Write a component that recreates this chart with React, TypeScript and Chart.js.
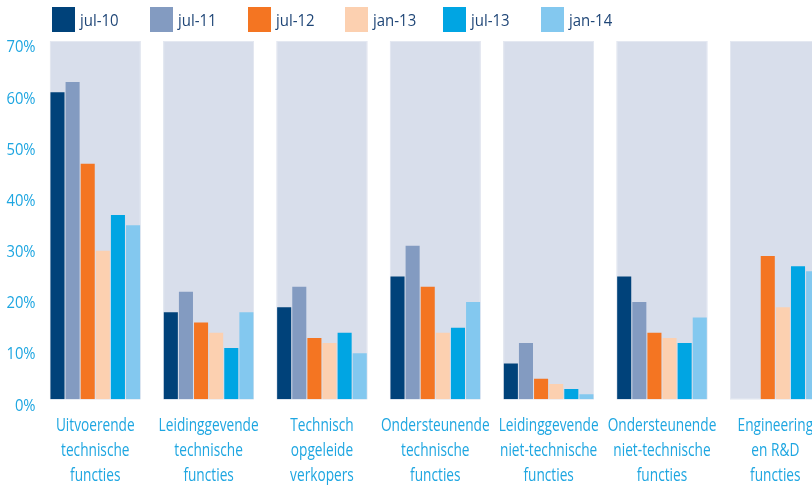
import React, { useEffect, useRef } from 'react';
import { Chart, registerables } from 'chart.js';

Chart.register(...registerables);

const categories: string[][] = [
  ['Uitvoerende', 'technische', 'functies'],
  ['Leidinggevende', 'technische', 'functies'],
  ['Technisch', 'opgeleide', 'verkopers'],
  ['Ondersteunende', 'technische', 'functies'],
  ['Leidinggevende', 'niet-technische', 'functies'],
  ['Ondersteunende', 'niet-technische', 'functies'],
  ['Engineering', 'en R&D', 'functies'],
];
const seriesNames = ['jul-10', 'jul-11', 'jul-12', 'jan-13', 'jul-13', 'jan-14'];
const jul10 = [60, 17, 18, 24, 7, 24, null];
const jul11 = [62, 21, 22, 30, 11, 19, null];
const jul12 = [46, 15, 12, 22, 4, 13, 28];
const jan13 = [29, 13, 11, 13, 3, 12, 18];
const jul13 = [36, 10, 13, 14, 2, 11, 26];
const jan14 = [34, 17, 9, 19, 1, 16, 25];
const yMin = 0;
const yMax = 70;
const yStep = 10;

const seriesValues = [jul10, jul11, jul12, jan13, jul13, jan14];
const colors = ['#00427a', '#839bc1', '#f47522', '#fcd0b0', '#00a5e3', '#83c8ef'];

const FONT = "'Open Sans', 'Noto Sans', sans-serif";
const AXIS_COLOR = '#1ea6e1';
const LEGEND_TEXT = '#1f4677';
const PANEL_COLOR = '#d8deeb';
const PANEL_EDGE = '#e4e8f1';
const CAT_PCT = 0.8;
const X_SQUEEZE = 0.76;
const Y_SQUEEZE = 0.87;

// Background panel behind each category group, sized from the library's scales
const panelPlugin = {
  id: 'panels',
  beforeDatasetsDraw(chart: any) {
    const { ctx, scales } = chart;
    const x = scales.x;
    const y = scales.y;
    const top = y.getPixelForValue(yMax);
    const bottom = y.getPixelForValue(yMin);
    const w = (x.getPixelForValue(1) - x.getPixelForValue(0)) * CAT_PCT;
    ctx.save();
    for (let i = 0; i < categories.length; i++) {
      const cx = x.getPixelForValue(i);
      ctx.fillStyle = PANEL_COLOR;
      ctx.fillRect(cx - w / 2, top, w, bottom - top);
      ctx.strokeStyle = PANEL_EDGE;
      ctx.lineWidth = 1;
      ctx.strokeRect(cx - w / 2 + 0.5, top + 0.5, w - 1, bottom - top - 1);
    }
    ctx.restore();
  },
};

export default function App() {
  const canvasRef = useRef<HTMLCanvasElement | null>(null);

  useEffect(() => {
    const canvas = canvasRef.current;
    if (!canvas) return;
    const ctx: any = canvas.getContext('2d');
    // Condensed look for the axis text (the original uses a condensed face)
    const origMeasure = CanvasRenderingContext2D.prototype.measureText;
    const origFill = CanvasRenderingContext2D.prototype.fillText;
    const squeezeOf = (s: string) => (s.endsWith('%') ? Y_SQUEEZE : X_SQUEEZE);
    ctx.measureText = function (text: any) {
      const s = String(text);
      const m = origMeasure.call(this, s);
      const f = squeezeOf(s);
      return {
        width: m.width * f,
        actualBoundingBoxAscent: m.actualBoundingBoxAscent,
        actualBoundingBoxDescent: m.actualBoundingBoxDescent,
        actualBoundingBoxLeft: m.actualBoundingBoxLeft * f,
        actualBoundingBoxRight: m.actualBoundingBoxRight * f,
        fontBoundingBoxAscent: m.fontBoundingBoxAscent,
        fontBoundingBoxDescent: m.fontBoundingBoxDescent,
      };
    };
    ctx.fillText = function (text: any, x: number, y: number, maxWidth?: number) {
      const s = String(text);
      const w = origMeasure.call(this, s).width * squeezeOf(s);
      return origFill.call(this, s, x, y, maxWidth === undefined ? w : Math.min(maxWidth, w));
    };

    const chart = new Chart(canvas, {
      type: 'bar',
      data: {
        labels: categories,
        datasets: seriesNames.map((name, i) => ({
          label: name,
          data: seriesValues[i],
          backgroundColor: colors[i],
          borderWidth: 0,
          categoryPercentage: CAT_PCT,
          barPercentage: 0.93,
        })),
      },
      options: {
        responsive: false,
        animation: false,
        events: [],
        layout: { padding: { left: 0, top: 41, right: 0, bottom: 0 } },
        plugins: {
          legend: { display: false },
          tooltip: { enabled: false },
        },
        scales: {
          x: {
            grid: { display: false, drawTicks: false },
            border: { display: false },
            afterFit: (s: any) => {
              s.height = 86.7;
            },
            ticks: {
              color: AXIS_COLOR,
              font: { family: FONT, size: 18, lineHeight: 1.39 },
              padding: 14,
              maxRotation: 0,
              autoSkip: false,
            },
          },
          y: {
            min: yMin,
            max: yMax,
            grid: { display: false, drawTicks: false },
            border: { display: false },
            afterFit: (s: any) => {
              s.width = 38.6;
            },
            ticks: {
              stepSize: yStep,
              color: AXIS_COLOR,
              font: { family: FONT, size: 17 },
              padding: 3,
              labelOffset: 6.5,
              callback: (v: any) => v + '%',
            },
          },
        },
      },
      plugins: [panelPlugin],
    });
    return () => {
      chart.destroy();
      delete ctx.measureText;
      delete ctx.fillText;
    };
  }, []);

  return (
    <div
      style={{
        position: 'fixed',
        left: 0,
        top: 0,
        width: 812,
        height: 486,
        overflow: 'hidden',
        background: '#ffffff',
      }}
    >
      <div
        style={{
          position: 'absolute',
          left: 52,
          top: 7,
          display: 'flex',
          fontFamily: FONT,
          fontSize: 17,
          color: LEGEND_TEXT,
          zIndex: 2,
        }}
      >
        {seriesNames.map((name, i) => (
          <div key={name} style={{ display: 'flex', alignItems: 'center', width: 97.8, height: 25 }}>
            <span style={{ display: 'inline-block', width: 23, height: 25, background: colors[i], marginRight: 5, flex: 'none' }} />
            <span style={{ display: 'inline-block', transform: 'scaleX(0.88)', transformOrigin: 'left center', whiteSpace: 'nowrap' }}>{name}</span>
          </div>
        ))}
      </div>
      <canvas
        ref={canvasRef}
        width={832}
        height={486}
        style={{ position: 'absolute', left: 0, top: 0, width: 832, height: 486 }}
      />
    </div>
  );
}
